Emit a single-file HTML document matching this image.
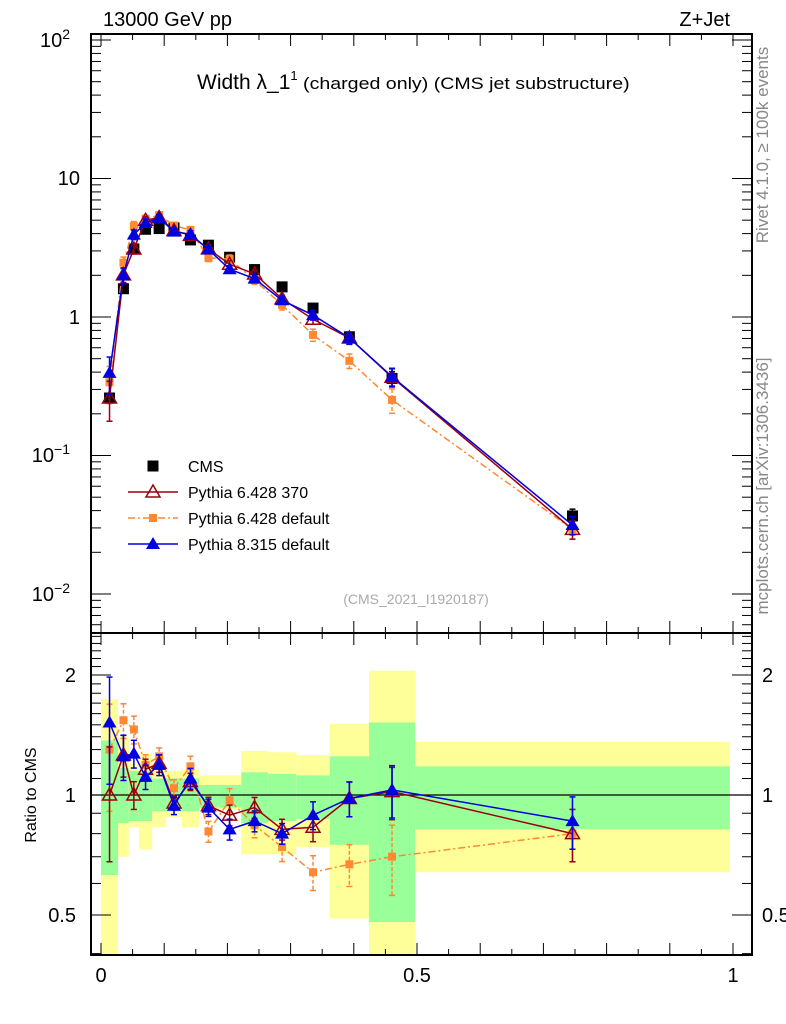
<!DOCTYPE html>
<html><head><meta charset="utf-8"><style>
body{margin:0;background:#fff}
svg{display:block;font-family:"Liberation Sans",sans-serif}
</style></head><body>
<svg id="c" width="786" height="1024" viewBox="0 0 786 1024"></svg>
<script>
const edges=[0,0.027,0.044,0.060,0.081,0.103,0.128,0.155,0.185,0.222,0.264,0.309,0.362,0.424,0.497,0.995];
const cmsVals=[0.26,1.6,3.1,4.3,4.35,4.4,3.6,3.3,2.7,2.2,1.65,1.16,0.72,0.36,0.0366];
const cmsErr=[0.06,0.06,0.05,0.05,0.05,0.05,0.05,0.05,0.05,0.05,0.05,0.05,0.08,0.12,0.12];
const ratioRed=[1.0,1.26,1.0,1.16,1.2,0.955,1.08,0.94,0.89,0.93,0.82,0.83,0.98,1.02,0.80];
const errRed=[0.32,0.12,0.08,0.06,0.05,0.04,0.05,0.05,0.06,0.06,0.06,0.08,0.1,0.15,0.15];
const ratioOrange=[1.30,1.54,1.46,1.19,1.25,1.04,1.18,0.81,0.97,0.84,0.74,0.64,0.67,0.70,0.80];
const errOrange=[0.3,0.1,0.08,0.06,0.05,0.05,0.06,0.06,0.07,0.07,0.08,0.1,0.12,0.2,0.15];
const ratioBlue=[1.52,1.25,1.27,1.11,1.19,0.94,1.10,0.93,0.82,0.86,0.80,0.89,0.98,1.03,0.86];
const errBlue=[0.3,0.13,0.08,0.07,0.06,0.05,0.06,0.05,0.06,0.06,0.06,0.08,0.1,0.15,0.15];
const greenLo=[0.63,0.85,0.86,0.86,0.91,0.91,0.91,0.93,0.93,0.85,0.86,0.87,0.75,0.48,0.82];
const greenHi=[1.37,1.17,1.15,1.15,1.1,1.1,1.1,1.06,1.06,1.14,1.13,1.12,1.25,1.52,1.18];
const yelLo=[0.3,0.70,0.83,0.73,0.83,0.88,0.83,0.92,0.92,0.71,0.71,0.74,0.49,0.3,0.64];
const yelHi=[1.74,1.4,1.2,1.27,1.2,1.15,1.16,1.12,1.12,1.29,1.28,1.26,1.51,2.05,1.36];

const NS="http://www.w3.org/2000/svg";
const svg=document.getElementById('c');
const L=91,R=752,T=34,MB=633,RB=955;
const X=v=>101+v*632;
const Y=v=>317-Math.log10(v)*138.5;
const YR=v=>{let y=795-Math.log2(v)*120;return Math.max(MB,Math.min(RB,y));};
function el(t,a,p){const e=document.createElementNS(NS,t);for(const k in a)e.setAttribute(k,a[k]);(p||svg).appendChild(e);return e;}
function txt(s,x,y,a,p){const e=el('text',Object.assign({x:x,y:y},a),p);e.textContent=s;return e;}
const centers=edges.slice(0,-1).map((e,i)=>(e+edges[i+1])/2);

const gB=el('g',{});


centers.forEach((c,i)=>{
  const x1=X(edges[i]),x2=X(edges[i+1]);
  el('rect',{x:x1,y:YR(yelHi[i]),width:x2-x1,height:YR(yelLo[i])-YR(yelHi[i]),fill:'#ffff99'},gB);
  el('rect',{x:x1,y:YR(greenHi[i]),width:x2-x1,height:YR(greenLo[i])-YR(greenHi[i]),fill:'#99ff99'},gB);
});
el('line',{x1:L,x2:R,y1:YR(1),y2:YR(1),stroke:'#000','stroke-width':1.2});

el('rect',{x:L,y:T,width:R-L,height:MB-T,fill:'none',stroke:'#000','stroke-width':2});
el('rect',{x:L,y:MB,width:R-L,height:RB-MB,fill:'none',stroke:'#000','stroke-width':2});

for(let k=0;k<=20;k++){const v=k*0.05,x=X(v);const len=k%2==0?12:6;
  [[T,1],[MB,-1],[MB,1],[RB,-1]].forEach(([y,d])=>el('line',{x1:x,x2:x,y1:y,y2:y+d*len,stroke:'#000','stroke-width':1}));
}
['0','0.5','1'].forEach((s,i)=>{const t=txt(s,X(i*0.5),982,{'font-size':20,'text-anchor':'middle'});});

for(let d=-3;d<=2;d++){for(let m=1;m<10;m++){const v=m*Math.pow(10,d);const y=Y(v);if(y<T||y>MB)continue;const len=m==1?20:10;
  el('line',{x1:L,x2:L+len,y1:y,y2:y,stroke:'#000'});el('line',{x1:R,x2:R-len,y1:y,y2:y,stroke:'#000'});}}
const yl=[['10',178,''],['1',317,''],['10',40,'2'],['10',455,'−1'],['10',594,'−2']];
yl.forEach(([b,y,e])=>{const t=txt(b,e?70:80,y+7,{'font-size':20,'text-anchor':'end'});if(e){const s=el('tspan',{dy:-8,'font-size':14},t);s.textContent=e;}
 });
[0.4,0.5,0.6,0.7,0.8,0.9,1,1.1,1.2,1.3,1.4,1.5,1.6,1.7,1.8,1.9,2,2.1,2.2,2.3,2.4,2.5].forEach(v=>{const y=795-Math.log2(v)*120;if(y<MB||y>RB)return;const mj=(v==0.5||v==1||v==2);const len=mj?20:10;
 el('line',{x1:L,x2:L+len,y1:y,y2:y,stroke:'#000'});el('line',{x1:R,x2:R-len,y1:y,y2:y,stroke:'#000'});});
[['2',2],['1',1],['0.5',0.5]].forEach(([s,v])=>{const y=795-Math.log2(v)*120+7;
 txt(s,76,y,{'font-size':20,'text-anchor':'end'});txt(s,762,y,{'font-size':20});});
const rl=txt('Ratio to CMS',0,0,{'font-size':16,'text-anchor':'middle',transform:'translate(36,795) rotate(-90)'});


function drawSeries(yfun,vals,err,color,marker,dash,name,lineOn){
  const g=el('g',{});
  
  
  if(lineOn){el('polyline',{points:centers.map((c,i)=>X(c)+','+yfun(vals[i])).join(' '),fill:'none',stroke:color,'stroke-width':1.5,'stroke-dasharray':dash||''},g);}
  centers.forEach((c,i)=>{const x=X(c),y=yfun(vals[i]);const y1=yfun(vals[i]*(1+err[i])),y2=yfun(vals[i]*(1-err[i]));
    el('line',{x1:x,x2:x,y1:y1,y2:y2,stroke:color,'stroke-width':1.5,'stroke-dasharray':dash?'4,2':''},g);
    el('line',{x1:x-3,x2:x+3,y1:y1,y2:y1,stroke:color,'stroke-width':1.5},g);
    el('line',{x1:x-3,x2:x+3,y1:y2,y2:y2,stroke:color,'stroke-width':1.5},g);
    marker(g,x,y);});
}
const mSq=(c,s)=>(g,x,y)=>el('rect',{x:x-s,y:y-s,width:2*s,height:2*s,fill:c},g);
const mTriO=(c)=>(g,x,y)=>el('polygon',{points:`${x},${y-7} ${x-7},${y+5} ${x+7},${y+5}`,fill:'none',stroke:c,'stroke-width':1.5},g);
const mTri=(c)=>(g,x,y)=>el('polygon',{points:`${x},${y-7} ${x-7},${y+5} ${x+7},${y+5}`,fill:c},g);
const RED='#9b0010',OR='#ff8833',BL='#0000e0';
const prod=(a)=>cmsVals.map((v,i)=>v*a[i]);
drawSeries(Y,cmsVals,cmsErr,'#000',mSq('#000',5.5),'','cms-data',false);
drawSeries(Y,prod(ratioOrange),errOrange,OR,mSq(OR,4),'7,3,2,3','pythia6-default-series',true);
drawSeries(Y,prod(ratioRed),errRed,RED,mTriO(RED),'','pythia6-370-series',true);
drawSeries(Y,prod(ratioBlue),errBlue,BL,mTri(BL),'','pythia8-series',true);
drawSeries(YR,ratioOrange,errOrange,OR,mSq(OR,4),'7,3,2,3','ratio-pythia6-default',true);
drawSeries(YR,ratioRed,errRed,RED,mTriO(RED),'','ratio-pythia6-370',true);
drawSeries(YR,ratioBlue,errBlue,BL,mTri(BL),'','ratio-pythia8',true);

const lg=el('g',{});
const leg=[['CMS','#000',mSq('#000',5.5),null],['Pythia 6.428 370',RED,mTriO(RED),''],['Pythia 6.428 default',OR,mSq(OR,4),'7,3,2,3'],['Pythia 8.315 default',BL,mTri(BL),'']];
leg.forEach(([s,c,m,d],i)=>{const y=466+i*26;
  if(d!==null)el('line',{x1:128,x2:178,y1:y,y2:y,stroke:c,'stroke-width':1.5,'stroke-dasharray':d},lg);
  m(lg,153,y);const t=txt(s,188,y+6,{'font-size':16},lg);});

const t1=txt('13000 GeV pp',103,26,{'font-size':20});
const t2=txt('Z+Jet',730,26,{'font-size':20,'text-anchor':'end'});
const tt=txt('Width λ_1',197,89,{'font-size':21});
const s1=el('tspan',{dy:-9,'font-size':13},tt);s1.textContent='1';
const s2=el('tspan',{dy:9,'font-size':17,textLength:332,lengthAdjust:'spacingAndGlyphs'},tt);s2.textContent=' (charged only) (CMS jet substructure)';
const an=txt('(CMS_2021_I1920187)',416,604,{'font-size':14,fill:'#aaa','text-anchor':'middle'});
const r1=txt('Rivet 4.1.0, ≥ 100k events',0,0,{'font-size':17,fill:'#888','text-anchor':'middle',transform:'translate(768,145) rotate(-90)'});
const r2=txt('mcplots.cern.ch [arXiv:1306.3436]',0,0,{'font-size':17,fill:'#888','text-anchor':'middle',transform:'translate(768,486) rotate(-90)'});
</script>
</body></html>
